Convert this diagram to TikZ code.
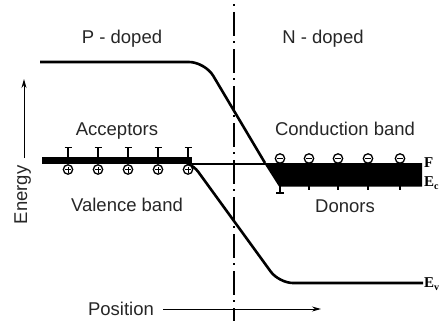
\documentclass[tikz,border=0pt]{standalone}
\usepackage{fontspec}
\setmainfont{Liberation Sans}
\newfontfamily\labserif{Liberation Serif}
\usetikzlibrary{arrows.meta}
\tikzset{
  lbl/.style={inner sep=0pt, font=\fontsize{18.5}{22}\selectfont, text=black!85},
  elbl/.style={inner sep=0pt, font=\labserif\bfseries\fontsize{15}{17}\selectfont},
  bandline/.style={line width=2.6pt, rounded corners=16pt},
  arr/.style={line width=1pt, -{Stealth[length=9pt,width=5pt]}},
  junction/.style={line width=1.5pt, dash pattern=on 2pt off 6pt on 24pt off 5pt},
  sym/.style={line width=1.3pt},
}
\begin{document}
\begin{tikzpicture}[x=1pt,y=-1pt]
\useasboundingbox (0,0) rectangle (443,321);
% texts
\node[lbl, anchor=base] (p) at (122,44) {P - doped};
\node[lbl, anchor=base] (n) at (323,44) {N - doped};
\node[lbl, anchor=base] (acc) at (117,135) {Acceptors};
\node[lbl, anchor=base] (cb) at (345,135) {Conduction band};
\node[lbl, anchor=base] (vb) at (127,211) {Valence band};
\node[lbl, anchor=base] (don) at (345,212) {Donors};
\node[lbl, anchor=base] (pos) at (121,315) {Position};
\node[lbl, anchor=base, rotate=90] (en) at (27,195) {Energy};
% axes arrows
\coordinate (e0) at (24,158);
\coordinate (e1) at (24,79);
\draw[arr] (e0) -- (e1);
\coordinate (p0) at (163,309);
\coordinate (p1) at (321,309);
\draw[arr] (p0) -- (p1);
% junction
\coordinate (j0) at (234,4);
\coordinate (j1) at (234,321);
\draw[junction] (j0) -- (j1);
% conduction band edge
\draw[bandline] (40,62) -- (205,62) -- (265,163);
\fill (264,163) -- (422,163) -- (422,186.5) -- (279,186.5) -- cycle;
% Fermi level
\draw[line width=1.2pt] (192,164) -- (422,164);
% valence band edge
\draw[bandline, rounded corners=14pt] (42,160.5) -- (190,160.5) -- (279,283) -- (423,283);
\draw[line width=7pt] (42,160.5) -- (192,160.5);
% acceptors
\foreach \x in {68,98,128,158,188}{
  \draw[sym] (\x,157) -- (\x,147.5);
  \draw[sym] (\x-3.5,147.5) -- (\x+3.5,147.5);
  \draw[sym, fill=white] (\x,169.5) circle (4.7);
  \draw[line width=1pt] (\x-3,169.5) -- (\x+3,169.5) (\x,166.5) -- (\x,172.5);
}
% donors
\foreach \x in {280,309,338,368,400}{
  \draw[sym, fill=white] (\x,158.5) circle (4.7);
  \draw[line width=1pt] (\x-3,158.5) -- (\x+3,158.5);
  \draw[sym] (\x,186) -- (\x,190);
}
\draw[sym] (280,186) -- (280,193);
\draw[sym] (276,193) -- (284,193);
% level labels
\node[elbl, anchor=west] (F) at (424,163) {F};
\node[elbl, anchor=west] (Ec) at (424,183) {E\raisebox{-2.5pt}{\fontsize{10}{11}\selectfont c}};
\node[elbl, anchor=west] (Ev) at (424,284) {E\raisebox{-2.5pt}{\fontsize{10}{11}\selectfont v}};
\end{tikzpicture}
\end{document}
